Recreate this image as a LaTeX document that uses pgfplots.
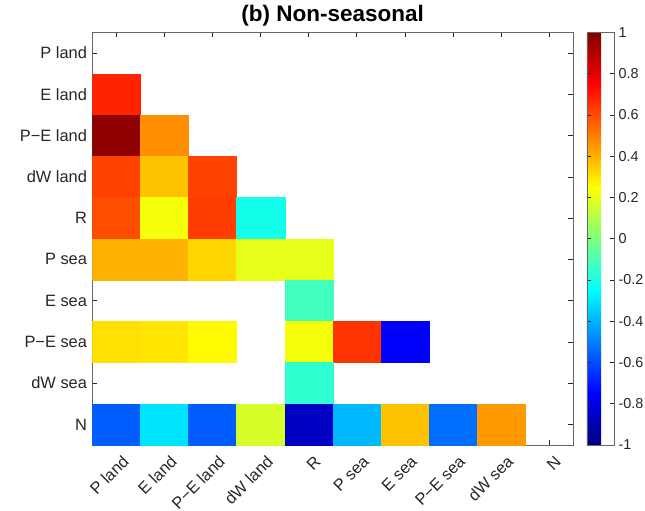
\documentclass[border=0pt]{standalone}
\usepackage{fontspec}
\setmainfont{Liberation Sans}
\usepackage{pgfplots}
\pgfplotsset{compat=1.18}
\definecolor{axgray}{RGB}{38,38,38}
\begin{document}
\begin{tikzpicture}
\begin{axis}[
  at={(0,0)}, anchor=south west,
  scale only axis, width=480.5pt, height=412.5pt,
  xmin=-0.5, xmax=9.5, ymin=-0.5, ymax=9.5,
  y dir=reverse,
  xtick={0,...,9}, ytick={0,...,9},
  xticklabels={P land,E land,P−E land,dW land,R,P sea,E sea,P−E sea,dW sea,N},
  yticklabels={P land,E land,P−E land,dW land,R,P sea,E sea,P−E sea,dW sea,N},
  x tick label style={xshift=10pt, yshift=-13pt, rotate=45, anchor=east, inner sep=1pt, font=\fontsize{16.4}{17}\selectfont, text=axgray},
  y tick label style={xshift=-2pt, font=\fontsize{16.4}{17}\selectfont, text=axgray},
  tick align=inside, major tick length=5pt,
  every tick/.style={axgray, line width=0.6pt},
  axis line style={draw=gray!80!black, line width=0.6pt},
  title={\textbf{(b) Non-seasonal}},
  title style={font=\fontsize{22.5}{24}\selectfont, at={(0.5,1)}, anchor=base, yshift=5pt},
  colormap/jet,
  point meta min=-1, point meta max=1,
  unbounded coords=jump,
  colorbar,
  colorbar style={
    at={(1.0291,1)}, anchor=north west,
    width=27pt,
    ytick={-1,-0.8,-0.6,-0.4,-0.2,0,0.2,0.4,0.6,0.8,1},
    yticklabels={-1,-0.8,-0.6,-0.4,-0.2,0,0.2,0.4,0.6,0.8,1},
    yticklabel style={font=\fontsize{14.4}{15}\selectfont, text=axgray, xshift=1pt},
    tick align=inside, major tick length=4pt,
    axis line style={draw=gray!80!black, line width=0.6pt},
  },
]
\addplot[matrix plot*, mesh/cols=10, point meta=explicit] table[meta=c] {
x y c
0 0 nan
1 0 nan
2 0 nan
3 0 nan
4 0 nan
5 0 nan
6 0 nan
7 0 nan
8 0 nan
9 0 nan
0 1 0.68
1 1 nan
2 1 nan
3 1 nan
4 1 nan
5 1 nan
6 1 nan
7 1 nan
8 1 nan
9 1 nan
0 2 0.97
1 2 0.47
2 2 nan
3 2 nan
4 2 nan
5 2 nan
6 2 nan
7 2 nan
8 2 nan
9 2 nan
0 3 0.62
1 3 0.37
2 3 0.62
3 3 nan
4 3 nan
5 3 nan
6 3 nan
7 3 nan
8 3 nan
9 3 nan
0 4 0.60
1 4 0.23
2 4 0.63
3 4 -0.21
4 4 nan
5 4 nan
6 4 nan
7 4 nan
8 4 nan
9 4 nan
0 5 0.40
1 5 0.40
2 5 0.33
3 5 0.20
4 5 0.20
5 5 nan
6 5 nan
7 5 nan
8 5 nan
9 5 nan
0 6 nan
1 6 nan
2 6 nan
3 6 nan
4 6 -0.125
5 6 nan
6 6 nan
7 6 nan
8 6 nan
9 6 nan
0 7 0.31
1 7 0.30
2 7 0.26
3 7 nan
4 7 0.23
5 7 0.65
6 7 -0.75
7 7 nan
8 7 nan
9 7 nan
0 8 nan
1 8 nan
2 8 nan
3 8 nan
4 8 -0.16
5 8 nan
6 8 nan
7 8 nan
8 8 nan
9 8 nan
0 9 -0.565
1 9 -0.30
2 9 -0.57
3 9 0.17
4 9 -0.87
5 9 -0.39
6 9 0.37
7 9 -0.535
8 9 0.45
9 9 nan
};
\end{axis}
\pgfresetboundingbox
\path (-92.5pt,-66pt) rectangle (552.5pt,445pt);
\end{tikzpicture}
\end{document}
